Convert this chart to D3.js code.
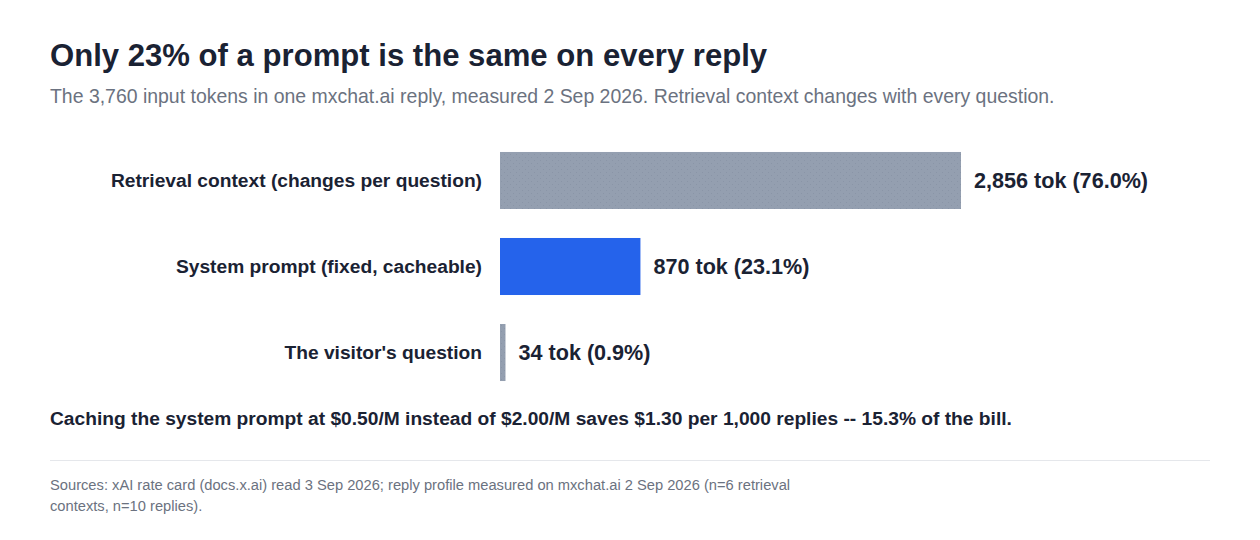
<!DOCTYPE html>
<html>
<head>
<meta charset="utf-8">
<script src="https://cdn.jsdelivr.net/npm/d3@7"></script>
<style>
  html, body { margin: 0; padding: 0; background: #fff; }
  svg { display: block; font-family: "Liberation Sans", Arial, Helvetica, sans-serif; }
</style>
</head>
<body>
<div id="chart"></div>
<script>
// prompt composition for one reply
const segments = ["Retrieval context (changes per question)", "System prompt (fixed, cacheable)", "The visitor's question"];
const tokens = [2856, 870, 34];
const shares = [76.0, 23.1, 0.9];
const kinds = ["changing", "fixed", "changing"];

const TITLE = "Only 23% of a prompt is the same on every reply";
const SUBTITLE = "The 3,760 input tokens in one mxchat.ai reply, measured 2 Sep 2026. Retrieval context changes with every question.";
const NOTE = "Caching the system prompt at $0.50/M instead of $2.00/M saves $1.30 per 1,000 replies -- 15.3% of the bill.";
const SOURCES = [
  "Sources: xAI rate card (docs.x.ai) read 3 Sep 2026; reply profile measured on mxchat.ai 2 Sep 2026 (n=6 retrieval",
  "contexts, n=10 replies)."
];

const Wd = 1260, Ht = 540;
const fmtInt = d3.format(",");

const svg = d3.select("#chart").append("svg").attr("width", Wd).attr("height", Ht);

// faint dotted texture on the grey bars
const defs = svg.append("defs");
const pat = defs.append("pattern").attr("id", "dots")
  .attr("width", 6).attr("height", 6).attr("patternUnits", "userSpaceOnUse");
pat.append("rect").attr("width", 6).attr("height", 6).attr("fill", "#949fb0");
pat.append("rect").attr("x", 1).attr("y", 1).attr("width", 1).attr("height", 1).attr("fill", "#8a95a7");
pat.append("rect").attr("x", 4).attr("y", 4).attr("width", 1).attr("height", 1).attr("fill", "#8a95a7");

const fillFor = k => k === "fixed" ? "#2563eb" : "url(#dots)";

// header
svg.append("text").attr("x", 50).attr("y", 66)
  .style("font-size", "31.1px").style("font-weight", "700").attr("fill", "#1a2233")
  .text(TITLE);
svg.append("text").attr("x", 50).attr("y", 103)
  .style("font-size", "19.45px").attr("fill", "#6b7280")
  .text(SUBTITLE);

// scales
const x0 = 500;
const x = d3.scaleLinear().domain([0, d3.max(tokens)]).range([0, 461]);
const y = d3.scaleBand().domain(segments).range([123, 410]).paddingInner(0.337).paddingOuter(0.337);

const rows = segments.map((s, i) => ({ seg: s, tok: tokens[i], pct: shares[i], kind: kinds[i] }));

const g = svg.append("g").attr("transform", `translate(${x0},0)`);

g.selectAll("rect.bar").data(rows).join("rect")
  .attr("class", "bar")
  .attr("x", 0)
  .attr("y", d => y(d.seg))
  .attr("width", d => x(d.tok))
  .attr("height", y.bandwidth())
  .attr("fill", d => fillFor(d.kind));

// category labels, right aligned against the bars
g.selectAll("text.cat").data(rows).join("text")
  .attr("class", "cat")
  .attr("x", -18)
  .attr("y", d => y(d.seg) + y.bandwidth() / 2)
  .attr("dy", "0.35em")
  .attr("text-anchor", "end")
  .style("font-size", "19.2px").style("font-weight", "700").attr("fill", "#1a2233")
  .text(d => d.seg);

// value labels
g.selectAll("text.val").data(rows).join("text")
  .attr("class", "val")
  .attr("x", d => x(d.tok) + 13)
  .attr("y", d => y(d.seg) + y.bandwidth() / 2)
  .attr("dy", "0.35em")
  .style("font-size", "21.6px").style("font-weight", "700").attr("fill", "#1a2233")
  .text(d => `${fmtInt(d.tok)} tok (${d.pct.toFixed(1)}%)`);

// takeaway
svg.append("text").attr("x", 50).attr("y", 425)
  .style("font-size", "19.2px").style("font-weight", "700").attr("fill", "#1a2233")
  .text(NOTE);

// footer
svg.append("line").attr("x1", 50).attr("x2", 1210).attr("y1", 460.5).attr("y2", 460.5)
  .attr("stroke", "#e5e7eb").attr("stroke-width", 1);
svg.append("g").selectAll("text").data(SOURCES).join("text")
  .attr("x", 50).attr("y", (d, i) => 490 + i * 21)
  .style("font-size", "14.7px").attr("fill", "#6b7280")
  .text(d => d);
</script>
</body>
</html>
